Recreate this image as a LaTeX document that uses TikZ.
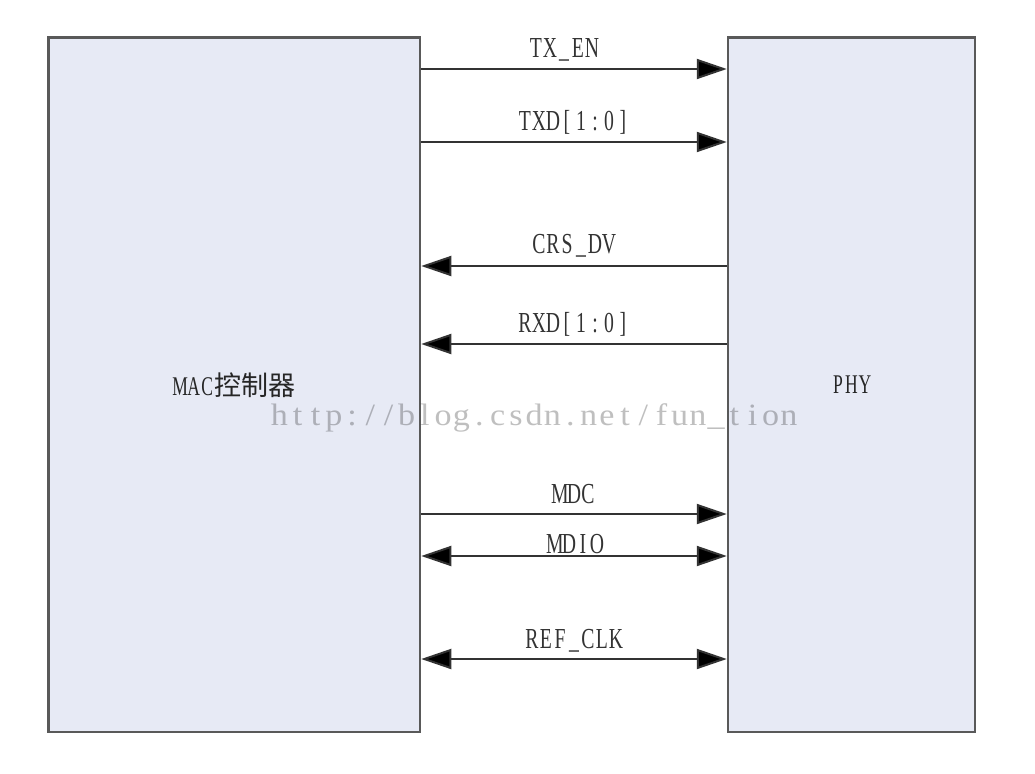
\documentclass[tikz,border=0pt]{standalone}
\usepackage{graphicx}
\usepackage{fontspec}
\setmainfont{Liberation Serif}
\newfontfamily\cjkfont{Noto Sans CJK SC}
\usetikzlibrary{arrows.meta}
\newlength\monow
\def\monos{1}
\def\monoloop#1{\ifx#1\relax\else\makebox[\monow]{\scalebox{\monos}[1]{#1}}\expandafter\monoloop\fi}
\newcommand\mono[3]{\setlength\monow{#1}\def\monos{#2}\monoloop#3\relax}
\definecolor{boxfill}{HTML}{E7EAF5}
\begin{document}
\begin{tikzpicture}[x=1pt,y=-1pt,
  box/.style={draw=black!65, line width=2.5pt, fill=boxfill, inner sep=0pt,
    font=\fontsize{27}{30}\selectfont, text=black!85},
  sig/.style={line width=2pt, draw=black!80},
  tipr/.style={-{Triangle[length=30pt,width=20pt,fill=black]}},
  tipb/.style={{Triangle[length=30pt,width=20pt,fill=black]}-{Triangle[length=30pt,width=20pt,fill=black]}},
  lab/.style={anchor=base, inner sep=0pt, font=\fontsize{29}{32}\selectfont, text=black!80}]
\useasboundingbox (0,0) rectangle (1035,773);
\node[box, minimum width=371.5pt, minimum height=694.5pt] (mac) at (234.25,384.75)
  {\mono{13.5pt}{0.65}{MAC}{\cjkfont 控制器}};
\node[box, minimum width=247pt, minimum height=694.5pt] (phy) at (851.5,384.75)
  {\mono{13.5pt}{0.65}{PHY}};
% signals
\draw[sig, tipr] (mac.east |- 0,69) -- (phy.west |- 0,69);
\node[lab] (ltxen) at (564,58) {\mono{14pt}{0.68}{TX\_EN}};
\draw[sig, tipr] (mac.east |- 0,142) -- (phy.west |- 0,142);
\node[lab] (ltxd) at (574,130) {\mono{14pt}{0.68}{TXD[1:0]}};
\draw[sig, tipr] (phy.west |- 0,266) -- (mac.east |- 0,266);
\node[lab] (lcrs) at (574,253) {\mono{14pt}{0.68}{CRS\_DV}};
\draw[sig, tipr] (phy.west |- 0,344) -- (mac.east |- 0,344);
\node[lab] (lrxd) at (574,332) {\mono{14pt}{0.68}{RXD[1:0]}};
\draw[sig, tipr] (mac.east |- 0,514) -- (phy.west |- 0,514);
\node[lab] (lmdc) at (574,503) {\mono{14pt}{0.68}{MDC}};
\draw[sig, tipb] (mac.east |- 0,556) -- (phy.west |- 0,556);
\node[lab] (lmdio) at (576,553) {\mono{14pt}{0.68}{MDIO}};
\draw[sig, tipb] (mac.east |- 0,659) -- (phy.west |- 0,659);
\node[lab] (lref) at (574,648) {\mono{14pt}{0.68}{REF\_CLK}};
% watermark
\node[anchor=base west, inner sep=0pt, text=black, opacity=0.25,
  font=\fontsize{31}{33}\selectfont] (wm) at (270,425)
  {\mono{18.2pt}{1.1}{http://blog.csdn.net/fun\_tion}};
\end{tikzpicture}
\end{document}
